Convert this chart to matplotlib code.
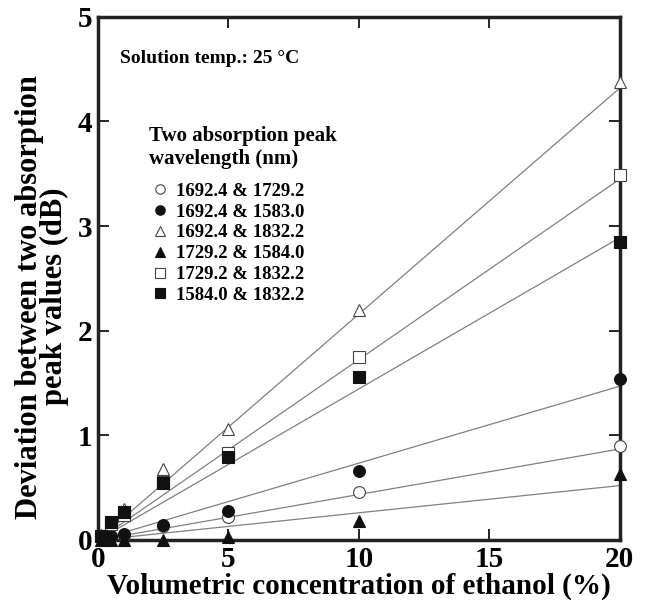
import matplotlib.pyplot as plt
import numpy as np

plt.rcParams["font.family"] = ["Liberation Serif", "DejaVu Serif"]
plt.rcParams["font.weight"] = "bold"

conc = [0.1, 0.5, 1.0, 2.5, 5.0, 10.0, 20.0]

labels = [
    "1692.4 & 1729.2",
    "1692.4 & 1583.0",
    "1692.4 & 1832.2",
    "1729.2 & 1584.0",
    "1729.2 & 1832.2",
    "1584.0 & 1832.2",
]

dev_1692_1729 = [0.02, 0.03, 0.05, 0.13, 0.22, 0.46, 0.90]
dev_1692_1583 = [0.02, 0.04, 0.06, 0.14, 0.28, 0.66, 1.54]
dev_1692_1832 = [0.05, 0.17, 0.30, 0.68, 1.06, 2.20, 4.38]
dev_1729_1584 = [0.00, 0.00, 0.00, 0.00, 0.03, 0.18, 0.63]
dev_1729_1832 = [0.04, 0.15, 0.24, 0.55, 0.83, 1.75, 3.49]
dev_1584_1832 = [0.04, 0.17, 0.27, 0.54, 0.79, 1.56, 2.85]

# linear fit value at 20 % for each series (lines through origin)
fit_at_20 = [0.87, 1.47, 4.32, 0.52, 3.45, 2.89]

series = [dev_1692_1729, dev_1692_1583, dev_1692_1832,
          dev_1729_1584, dev_1729_1832, dev_1584_1832]
markers = ["o", "o", "^", "^", "s", "s"]
filled = [False, True, False, True, False, True]

fig = plt.figure(figsize=(6.45, 6.02), dpi=100)
ax = fig.add_axes([0.152, 0.103, 0.809, 0.869])

for vals, fit, m, f, lab in zip(series, fit_at_20, markers, filled, labels):
    ax.plot([0, 20], [0, fit], color="#808080", lw=0.9, zorder=1)
    ax.plot(conc, vals, linestyle="none", marker=m, markersize=8.5,
            markerfacecolor="#111111" if f else "white",
            markeredgecolor="#111111" if f else "#444444",
            markeredgewidth=0.8, label=lab, zorder=3, clip_on=False)

ax.set_xlim(0, 20)
ax.set_ylim(0, 5)
ax.set_xticks([0, 5, 10, 15, 20])
ax.set_yticks([0, 1, 2, 3, 4, 5])
ax.tick_params(direction="in", length=8, width=1.2, top=True, right=True,
               labelsize=21, pad=4)
for lab in ax.get_xticklabels() + ax.get_yticklabels():
    lab.set_fontweight("bold")
for sp in ax.spines.values():
    sp.set_linewidth(2.5)
    sp.set_color("#222222")

ax.set_xlabel("Volumetric concentration of ethanol (%)", fontsize=21,
              fontweight="bold", labelpad=0)
ax.set_ylabel("Deviation between two absorption\npeak values (dB)", fontsize=22,
              fontweight="bold", linespacing=0.8)
ax.yaxis.set_label_coords(-0.056, 0.465)

ax.text(0.85, 4.6, "Solution temp.: 25 \u00b0C", fontsize=14,
        fontweight="bold", va="center", ha="left")

leg = ax.legend(loc="upper left", bbox_to_anchor=(0.08, 0.81), frameon=False,
                title="Two absorption peak\nwavelength (nm)",
                title_fontproperties={"weight": "bold", "size": 15},
                prop={"weight": "bold", "size": 13.5}, handletextpad=0.25,
                labelspacing=0.2, borderpad=0, handlelength=1.2,
                markerscale=0.8)
leg._legend_box.align = "left"
leg._legend_box.sep = 10

fig.savefig("out.png", dpi=100)
